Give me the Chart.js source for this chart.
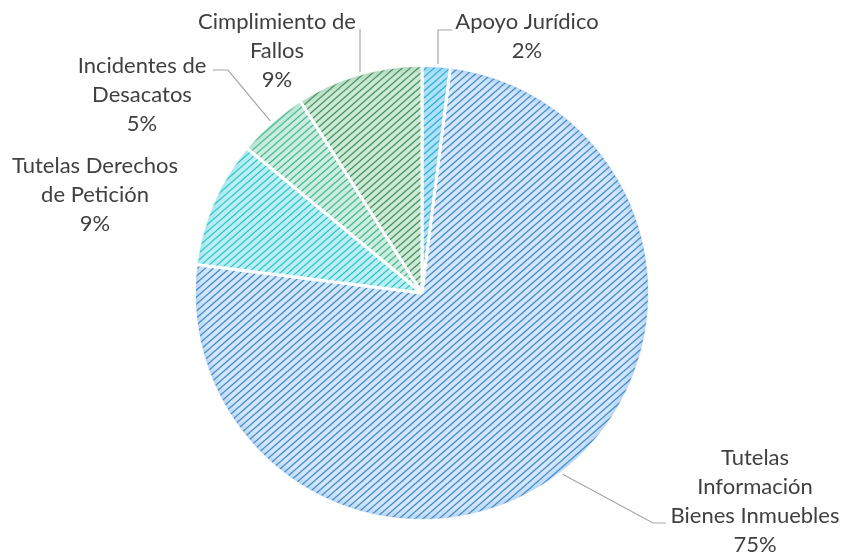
<!DOCTYPE html>
<html>
<head>
<meta charset="utf-8">
<script src="https://cdn.jsdelivr.net/npm/chart.js@4"></script>
<style>
  html, body { margin: 0; padding: 0; background: #fff; }
  #wrap { width: 842px; height: 554px; }
</style>
</head>
<body>
<div id="wrap"><canvas id="chart" width="842" height="554"></canvas></div>
<script>
// slices, clockwise from 12 o'clock
const labels = [
    ['Apoyo Jurídico'],
    ['Tutelas', 'Información', 'Bienes Inmuebles'],
    ['Tutelas Derechos', 'de Petición'],
    ['Incidentes de', 'Desacatos'],
    ['Cimplimiento de', 'Fallos']
];
const values = [2, 75, 9, 5, 9];
const percentLabels = ['2%', '75%', '9%', '5%', '9%'];

const bgColors = ['#b0e2f6', '#d3e7f8', '#bdeff2', '#cbecdf', '#cce9d4'];
const lineColors = ['#22abe2', '#3383d0', '#22c4cd', '#3db78a', '#3c8c5b'];

// where each label block sits (centre x, first line y) and its leader line
const labelLayout = [
    { x: 527, y: 22, leader: [[438, 30], [452, 30]] },
    { x: 755, y: 458, leader: [[653, 523], [666, 523]] },
    { x: 95, y: 166, leader: null },
    { x: 142, y: 66, leader: [[228, 70], [213, 70]] },
    { x: 277, y: 22, leader: [[360, 29]] }
];

function makePattern(bg, line) {
    const w = 8, h = 7;
    const c = document.createElement('canvas');
    c.width = w;
    c.height = h;
    const g = c.getContext('2d');
    g.fillStyle = bg;
    g.fillRect(0, 0, w, h);
    g.strokeStyle = line;
    g.lineWidth = 1.25;
    g.beginPath();
    for (let k = -1; k <= 1; k++) {
        g.moveTo(k * w - w, 2 * h);
        g.lineTo(k * w + 2 * w, -h);
    }
    g.stroke();
    return g.createPattern(c, 'repeat');
}

const patterns = bgColors.map((bg, i) => makePattern(bg, lineColors[i]));

// soft darker rim like the original's shading
const rimShade = {
    id: 'rimShade',
    afterDatasetsDraw(chart) {
        const meta = chart.getDatasetMeta(0);
        const ctx = chart.ctx;
        meta.data.forEach((arc, i) => {
            const { x, y, startAngle, endAngle, outerRadius } = arc.getProps(['x', 'y', 'startAngle', 'endAngle', 'outerRadius'], true);
            const grad = ctx.createRadialGradient(x, y, outerRadius * 0.55, x, y, outerRadius);
            grad.addColorStop(0, 'rgba(255,255,255,0)');
            grad.addColorStop(0.85, 'rgba(255,255,255,0)');
            grad.addColorStop(1, lineColors[i] + '38');
            ctx.save();
            ctx.beginPath();
            ctx.moveTo(x, y);
            ctx.arc(x, y, outerRadius - 1, startAngle + 0.006, endAngle - 0.006);
            ctx.closePath();
            ctx.fillStyle = grad;
            ctx.fill();
            ctx.restore();
        });
    }
};

const outsideLabels = {
    id: 'outsideLabels',
    afterDraw(chart) {
        const ctx = chart.ctx;
        const meta = chart.getDatasetMeta(0);
        ctx.save();
        ctx.font = '22px Lato, "Open Sans", sans-serif';
        ctx.fillStyle = '#404040';
        ctx.textAlign = 'center';
        ctx.textBaseline = 'middle';
        meta.data.forEach((arc, i) => {
            const lay = labelLayout[i];
            const lines = labels[i].concat([percentLabels[i]]);
            lines.forEach((t, k) => ctx.fillText(t, lay.x, lay.y + k * 29));

            if (lay.leader) {
                const { x, y, startAngle, endAngle, outerRadius } = arc.getProps(['x', 'y', 'startAngle', 'endAngle', 'outerRadius'], true);
                const mid = (startAngle + endAngle) / 2;
                let sx = x + Math.cos(mid) * (outerRadius + 2);
                let sy = y + Math.sin(mid) * (outerRadius + 2);
                // vertical leaders keep their x straight
                if (i === 0 || i === 4) {
                    sx = lay.leader[0][0];
                    sy = y - Math.sqrt(outerRadius * outerRadius - (sx - x) * (sx - x)) - 2;
                }
                ctx.strokeStyle = '#a6a6a6';
                ctx.lineWidth = 1.2;
                ctx.beginPath();
                ctx.moveTo(sx, sy);
                lay.leader.forEach(p => ctx.lineTo(p[0], p[1]));
                ctx.stroke();
            }
        });
        ctx.restore();
    }
};

new Chart(document.getElementById('chart'), {
    type: 'pie',
    data: {
        labels: labels.map(l => l.join(' ')),
        datasets: [{
            data: values,
            backgroundColor: patterns,
            borderColor: '#ffffff',
            borderWidth: 3,
            hoverOffset: 0
        }]
    },
    options: {
        responsive: false,
        animation: false,
        rotation: 0,
        layout: { padding: { left: 193, right: 191, top: 64, bottom: 32 } },
        plugins: {
            legend: { display: false },
            tooltip: { enabled: false }
        }
    },
    plugins: [rimShade, outsideLabels]
});
</script>
</body>
</html>
